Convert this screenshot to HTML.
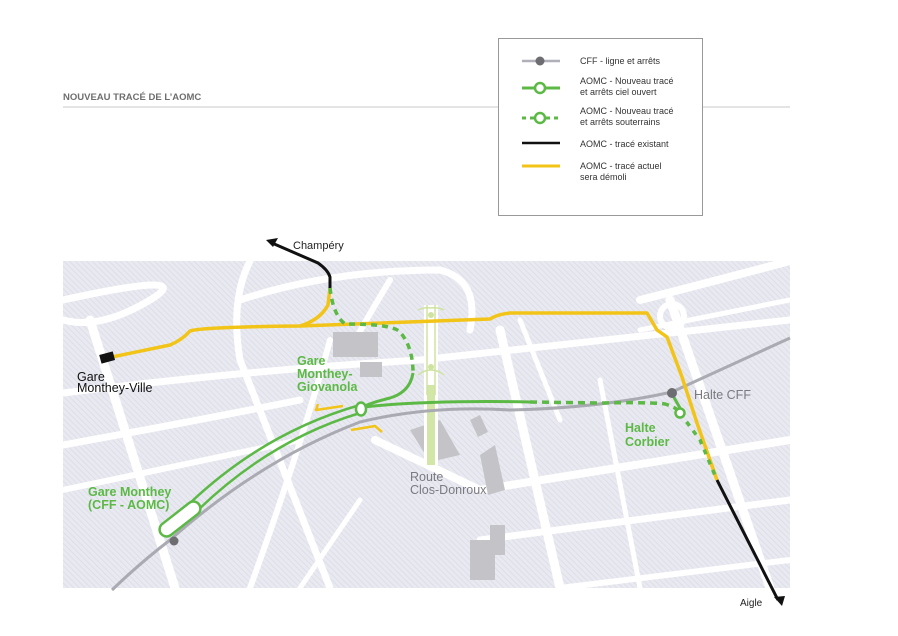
<!DOCTYPE html>
<html><head><meta charset="utf-8"><style>
body{margin:0;background:#fff;}
svg{display:block;font-family:"Liberation Sans",sans-serif;}
</style></head><body>
<svg width="898" height="636" viewBox="0 0 898 636" xmlns="http://www.w3.org/2000/svg">
<defs>
<pattern id="h" width="4" height="4" patternUnits="userSpaceOnUse" patternTransform="rotate(-45)">
<rect width="4" height="4" fill="#e9e9f1"/><rect width="1" height="4" fill="#dedee8"/>
</pattern>
<clipPath id="c"><rect x="63" y="261" width="727" height="327"/></clipPath>
</defs>
<line x1="63" y1="107" x2="790" y2="107" stroke="#c8c8c8" stroke-width="1"/>
<text x="63" y="100" font-size="9.5" font-weight="bold" fill="#6e6e6e">NOUVEAU TRACÉ DE L’AOMC</text>

<rect x="63" y="261" width="727" height="327" fill="url(#h)"/>
<g clip-path="url(#c)" fill="none" stroke="#fff" stroke-linecap="round">
<path d="M63 300 Q200 270 150 300 Q100 330 63 320" stroke-width="7"/>
<path d="M90 320 L175 588" stroke-width="9"/>
<path d="M63 393 Q250 370 420 360 L790 320" stroke-width="7"/>
<path d="M63 445 Q200 420 300 400" stroke-width="7"/>
<path d="M63 490 L300 440" stroke-width="6"/>
<path d="M250 261 Q230 300 240 360 L330 588" stroke-width="7"/>
<path d="M330 340 Q300 450 250 588" stroke-width="6"/>
<path d="M390 280 Q360 330 350 350" stroke-width="6"/>
<path d="M240 300 Q330 270 440 270 Q480 280 470 330" stroke-width="7"/>
<path d="M500 330 L560 588" stroke-width="9"/>
<path d="M375 440 L480 490 L790 440" stroke-width="8"/>
<path d="M480 540 L790 500" stroke-width="7"/>
<path d="M560 588 L790 560" stroke-width="6"/>
<path d="M600 380 L640 588" stroke-width="5"/>
<path d="M640 300 Q680 290 790 261" stroke-width="8"/>
<path d="M670 300 L770 588" stroke-width="9"/>
<path d="M520 320 L560 420" stroke-width="5"/>
<path d="M640 330 L790 300" stroke-width="5"/>
<path d="M360 500 L300 588" stroke-width="5"/>
<circle cx="672" cy="316" r="12" stroke-width="6"/>
</g>
<g fill="#c4c4c8">
<rect x="333" y="332" width="45" height="25"/>
<rect x="360" y="362" width="22" height="15"/>
<path d="M410 430 L440 420 L460 455 L430 462Z"/>
<path d="M480 455 L495 445 L505 490 L488 495Z"/>
<rect x="470" y="540" width="25" height="40"/>
<rect x="490" y="525" width="15" height="30"/>
<path d="M470 420 L480 415 L488 432 L478 437Z"/>
</g>
<rect x="424" y="305" width="14" height="160" fill="#fff"/>
<rect x="427" y="385" width="8" height="80" fill="#d2e6a8"/>
<path d="M427 305 L427 395 M435 305 L435 395" stroke="#cfe3a0" stroke-width="1.5"/>
<path d="M418 310 Q424 307 431 308 Q438 307 444 310 M418 375 Q424 370 431 370 Q438 370 444 375" stroke="#cfe3a0" stroke-width="1.5" fill="none"/>
<circle cx="431" cy="315" r="3" fill="#cfe3a0"/><circle cx="431" cy="367" r="3" fill="#cfe3a0"/>

<!-- CFF line -->
<path d="M112 590 Q140 563 170 540 Q260 460 360 422 Q430 405 510 410 Q600 408 672 392 L790 338" stroke="#aaaab2" stroke-width="3" fill="none"/>

<!-- yellow -->
<g stroke="#f2c418" stroke-width="3.5" fill="none" stroke-linejoin="round">
<path d="M112 357 L170 345 Q182 340 190 331 Q200 327 300 326 L490 319 Q498 314 510 313 L647 313 L657 330 L667 337 L682 377 L697 423 L717 480"/>
<path d="M300 326 Q320 320 328 305 L330 288"/>
<path d="M318 404 L316 410 L343 406" stroke-width="2.5"/>
<path d="M351 430 L375 426 L382 432" stroke-width="2.5"/>
</g>
<rect x="100" y="353" width="14" height="9" fill="#111" transform="rotate(-15 107 357)"/>

<!-- black -->
<g stroke="#111" stroke-width="3" fill="none">
<path d="M330 288 L330 277 Q328 270 318 263 L272 243"/>
<path d="M717 480 L778 600"/>
</g>
<path d="M266 240 L278 238 L273 247Z" fill="#111"/>
<path d="M782 606 L774 597 L785 596Z" fill="#111"/>

<!-- green -->
<g stroke="#5cb946" fill="none">
<path d="M330 288 Q333 315 345 324 Q393 324 400 332 Q413 347 413 373" stroke-width="3.5" stroke-dasharray="6 5"/>
<path d="M413 373 Q410 392 390 398 Q370 403 363 407" stroke-width="3"/>
<path d="M363 407 Q430 400 530 402" stroke-width="3"/>
<path d="M530 402 L600 403 Q650 402 665 404 Q678 408 680 413" stroke-width="3.5" stroke-dasharray="7 5"/>
<path d="M680 413 L700 440 L717 480" stroke-width="3.5" stroke-dasharray="5 6"/>
<path d="M672 394 L680 408" stroke-width="3"/>
<path d="M360 413 Q270 440 197 511" stroke-width="2.5"/>
<path d="M360 405 Q265 432 190 503" stroke-width="2.5"/>
</g>
<g transform="rotate(-38 180 519)"><rect x="156" y="512" width="48" height="14" rx="7" fill="#fff" stroke="#5cb946" stroke-width="2.5"/></g>
<ellipse cx="361" cy="409" rx="5" ry="6.5" fill="#fff" stroke="#5cb946" stroke-width="2.5"/>
<circle cx="680" cy="413" r="4.5" fill="#fff" stroke="#5cb946" stroke-width="2.5"/>
<circle cx="672" cy="393" r="5" fill="#6d6d72"/>
<circle cx="174" cy="541" r="4.5" fill="#6d6d72"/>

<!-- labels -->
<g font-size="11">
<text x="293" y="249" fill="#222">Champéry</text>
<text x="77" y="381" fill="#111" font-size="12.5">Gare</text>
<text x="77" y="392" fill="#111" font-size="12.5">Monthey-Ville</text>
<g fill="#5cb946" font-weight="bold" font-size="12.5">
<text x="297" y="365">Gare</text><text x="297" y="378">Monthey-</text><text x="297" y="391">Giovanola</text>
<text x="88" y="496">Gare Monthey</text><text x="88" y="509">(CFF - AOMC)</text>
<text x="625" y="432">Halte</text><text x="625" y="446">Corbier</text>
</g>
<text x="410" y="481" fill="#7a7a80" font-size="12.5">Route</text>
<text x="410" y="494" fill="#7a7a80" font-size="12.5">Clos-Donroux</text>
<text x="694" y="399" fill="#7a7a80" font-size="12.5">Halte CFF</text>
<text x="740" y="606" fill="#222" font-size="10">Aigle</text>
</g>

<!-- legend -->
<rect x="498.5" y="38.5" width="204" height="177" fill="#fff" stroke="#999"/>
<g font-size="9" fill="#333">
<line x1="522" y1="61" x2="560" y2="61" stroke="#b0b0b8" stroke-width="2.5"/><circle cx="540" cy="61" r="4.5" fill="#6d6d72"/>
<text x="580" y="64">CFF - ligne et arrêts</text>
<line x1="522" y1="88" x2="560" y2="88" stroke="#5cb946" stroke-width="3"/><circle cx="540" cy="88" r="5" fill="#fff" stroke="#5cb946" stroke-width="2.5"/>
<text x="580" y="84">AOMC - Nouveau tracé</text><text x="580" y="95">et arrêts ciel ouvert</text>
<line x1="522" y1="118" x2="560" y2="118" stroke="#5cb946" stroke-width="3" stroke-dasharray="4 4"/><circle cx="540" cy="118" r="5" fill="#fff" stroke="#5cb946" stroke-width="2.5"/>
<text x="580" y="114">AOMC - Nouveau tracé</text><text x="580" y="125">et arrêts souterrains</text>
<line x1="522" y1="143" x2="560" y2="143" stroke="#111" stroke-width="2.5"/>
<text x="580" y="147">AOMC - tracé existant</text>
<line x1="522" y1="166" x2="560" y2="166" stroke="#f2c418" stroke-width="3"/>
<text x="580" y="169">AOMC - tracé actuel</text><text x="580" y="180">sera démoli</text>
</g>
</svg>
</body></html>
